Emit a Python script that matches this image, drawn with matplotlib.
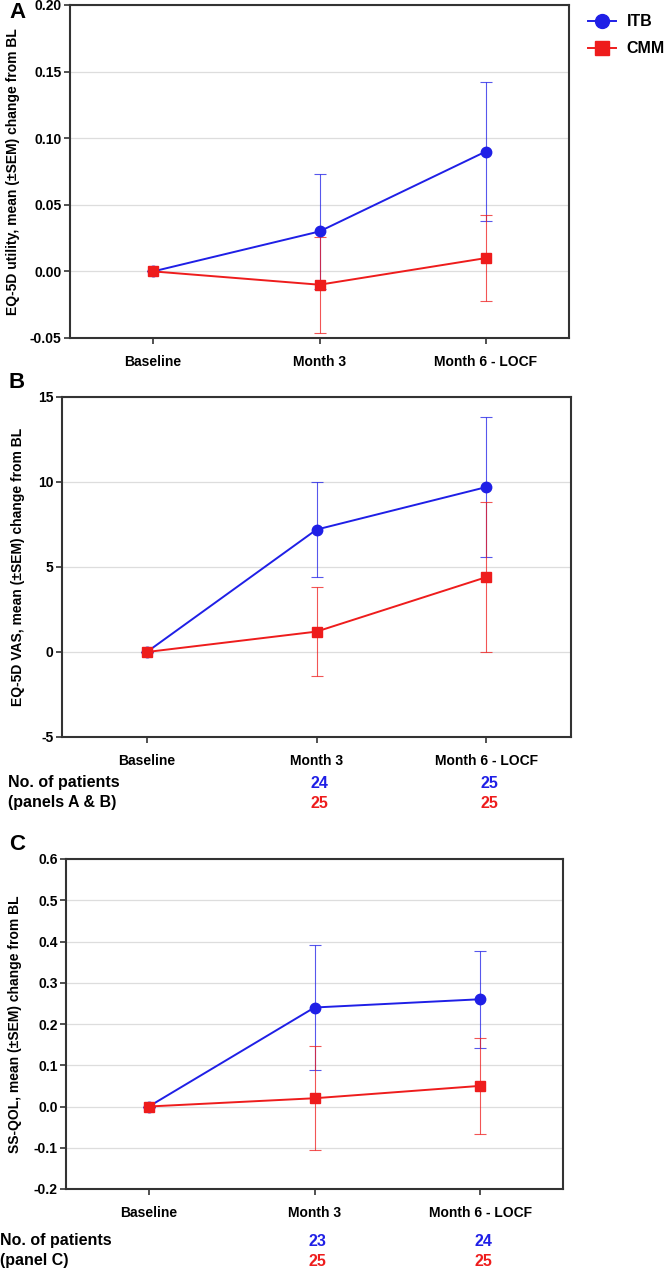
import numpy as np
import matplotlib
matplotlib.use("Agg")
import matplotlib.pyplot as plt
from matplotlib.transforms import blended_transform_factory
from matplotlib.lines import Line2D

plt.rcParams['font.family'] = ['Liberation Sans', 'DejaVu Sans']
plt.rcParams['font.weight'] = 'bold'

# data
visits = ["Baseline", "Month 3", "Month 6 - LOCF"]
groups = ["ITB", "CMM"]

# panel A - EQ-5D utility
a_itb = [0.0, 0.03, 0.09]
a_itb_sem = [0.0, 0.043, 0.052]
a_cmm = [0.0, -0.01, 0.01]
a_cmm_sem = [0.0, 0.036, 0.032]

# panel B - EQ-5D VAS
b_itb = [0.0, 7.2, 9.7]
b_itb_sem = [0.0, 2.8, 4.1]
b_cmm = [0.0, 1.2, 4.4]
b_cmm_sem = [0.0, 2.6, 4.4]

# panel C - SS-QOL
c_itb = [0.0, 0.24, 0.26]
c_itb_sem = [0.0, 0.152, 0.118]
c_cmm = [0.0, 0.02, 0.05]
c_cmm_sem = [0.0, 0.126, 0.116]

# patient counts
n_ab_itb = ["24", "25"]
n_ab_cmm = ["25", "25"]
n_c_itb = ["23", "24"]
n_c_cmm = ["25", "25"]

blue = "#1f1fe6"
red = "#ee1c1c"

W, H = 666, 1269
fig = plt.figure(figsize=(W / 100, H / 100), dpi=100)


def make_ax(l, r, t, b):
    return fig.add_axes([l / W, 1 - b / H, (r - l) / W, (b - t) / H])


def draw_panel(ax, itb, itb_sem, cmm, cmm_sem, ylim, yticks, fmt, ylabel, labx):
    x = np.arange(len(visits))
    ax.errorbar(x, itb, yerr=itb_sem, color=blue, lw=0, elinewidth=0.8,
                capsize=4, capthick=0.8, alpha=0.75, zorder=2)
    ax.errorbar(x, cmm, yerr=cmm_sem, color=red, lw=0, elinewidth=0.8,
                capsize=4, capthick=0.8, alpha=0.75, zorder=2)
    ax.plot(x, itb, color=blue, lw=1.4, marker="o", ms=7.5, zorder=3)
    ax.plot(x, cmm, color=red, lw=1.4, marker="s", ms=7, zorder=4)
    ax.set_xlim(-0.5, 2.5)
    ax.set_ylim(*ylim)
    ax.set_yticks(yticks)
    ax.set_yticklabels([fmt % v for v in yticks])
    ax.set_xticks(x)
    ax.set_xticklabels(visits)
    ax.yaxis.grid(True, color="#dddddd", lw=0.9)
    ax.set_axisbelow(True)
    for s in ax.spines.values():
        s.set_color("#333333")
        s.set_linewidth(1.5)
    ax.tick_params(axis="both", length=4, width=1.2, color="#333333",
                   labelsize=10, pad=2)
    ax.tick_params(axis="x", pad=8)
    ax.set_ylabel(ylabel, fontsize=10, fontweight="bold")
    ax.yaxis.set_label_coords(labx, 0.5)
    for lab in ax.get_xticklabels() + ax.get_yticklabels():
        lab.set_fontweight("bold")


ax_a = make_ax(70, 569, 5, 338)
draw_panel(ax_a, a_itb, a_itb_sem, a_cmm, a_cmm_sem, (-0.05, 0.20),
           [-0.05, 0.0, 0.05, 0.10, 0.15, 0.20], "%.2f",
           "EQ-5D utility, mean (\u00b1SEM) change from BL", -0.100)

ax_b = make_ax(62, 571, 397, 737)
draw_panel(ax_b, b_itb, b_itb_sem, b_cmm, b_cmm_sem, (-5, 15),
           [-5, 0, 5, 10, 15], "%d",
           "EQ-5D VAS, mean (\u00b1SEM) change from BL", -0.072)

ax_c = make_ax(66, 563, 859, 1189)
draw_panel(ax_c, c_itb, c_itb_sem, c_cmm, c_cmm_sem, (-0.2, 0.6),
           [-0.2, -0.1, 0.0, 0.1, 0.2, 0.3, 0.4, 0.5, 0.6], "%.1f",
           "SS-QOL, mean (\u00b1SEM) change from BL", -0.088)

# panel letters
for letter, ypx in (("A", 12), ("B", 383), ("C", 845)):
    fig.text(9 / W, 1 - ypx / H, letter, fontsize=16, fontweight="bold",
             ha="left", va="center")

# legend
handles = [Line2D([], [], color=blue, marker="o", ms=10, lw=1.4),
           Line2D([], [], color=red, marker="s", ms=10, lw=1.4)]
fig.legend(handles, groups, loc="upper left",
           bbox_to_anchor=(582 / W, 1 - 8 / H), frameon=False,
           handlelength=1.7, handletextpad=0.7, labelspacing=0.75,
           borderaxespad=0.0, prop={"weight": "bold", "size": 11.5})

# patient counts
def counts(ax, itb_n, cmm_n, y1, y2, label2, xl):
    tr = blended_transform_factory(ax.transData, fig.transFigure)
    fig.text(xl / W, 1 - y1 / H, "No. of patients", fontsize=11.5,
             fontweight="bold", va="center", ha="left")
    fig.text(xl / W, 1 - y2 / H, label2, fontsize=11.5,
             fontweight="bold", va="center", ha="left")
    for i, (ni, nc) in enumerate(zip(itb_n, cmm_n)):
        ax.text(i + 1 + 0.02, 1 - y1 / H, ni, transform=tr, color=blue,
                fontsize=11.5, fontweight="bold", ha="center", va="center")
        ax.text(i + 1 + 0.02, 1 - y2 / H, nc, transform=tr, color=red,
                fontsize=11.5, fontweight="bold", ha="center", va="center")


counts(ax_b, n_ab_itb, n_ab_cmm, 783, 803, "(panels A & B)", 8)
counts(ax_c, n_c_itb, n_c_cmm, 1241, 1261, "(panel C)", 0)

fig.savefig("out.png", dpi=100)
